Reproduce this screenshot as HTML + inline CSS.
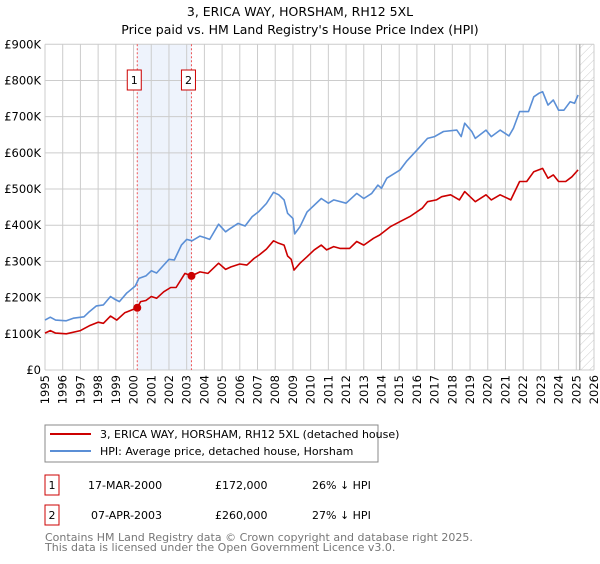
<!DOCTYPE html>
<html><head><meta charset="utf-8"><style>
body{margin:0;background:#fff;width:600px;height:560px;overflow:hidden;font-family:"DejaVu Sans","Liberation Sans",sans-serif;}
svg text{font-family:"DejaVu Sans","Liberation Sans",sans-serif;}
</style></head><body>
<svg id="chart" width="600" height="560" xmlns="http://www.w3.org/2000/svg">
<defs><pattern id="hatch" width="6" height="6" patternUnits="userSpaceOnUse" patternTransform="rotate(45)"><line x1="0" y1="0" x2="0" y2="6" stroke="#ccc" stroke-width="1"/></pattern></defs>
<text x="300" y="16" text-anchor="middle" font-size="12.5">3, ERICA WAY, HORSHAM, RH12 5XL</text>
<text x="300" y="34" text-anchor="middle" font-size="12.5">Price paid vs. HM Land Registry's House Price Index (HPI)</text>
<g id="grid"></g><g id="marks"></g><g id="axes"></g>
<g>
<rect x="45" y="425" width="333" height="37" fill="#fff" stroke="#888"/>
<line x1="50" y1="434" x2="91" y2="434" stroke="#cc0000" stroke-width="2"/>
<text x="100" y="438" font-size="11">3, ERICA WAY, HORSHAM, RH12 5XL (detached house)</text>
<line x1="50" y1="451" x2="91" y2="451" stroke="#5b8fd6" stroke-width="2"/>
<text x="100" y="455" font-size="11">HPI: Average price, detached house, Horsham</text>
</g>
<g font-size="11">
<rect x="45" y="475" width="14" height="20" fill="#fff" stroke="#cc0000"/><text x="52" y="489" text-anchor="middle">1</text>
<text x="88" y="489">17-MAR-2000</text><text x="215" y="489">£172,000</text><text x="312" y="489">26% ↓ HPI</text>
<rect x="45" y="505" width="14" height="20" fill="#fff" stroke="#cc0000"/><text x="52" y="519" text-anchor="middle">2</text>
<text x="91" y="519">07-APR-2003</text><text x="215" y="519">£260,000</text><text x="312" y="519">27% ↓ HPI</text>
</g>
<text x="45" y="541" font-size="11" fill="#777">Contains HM Land Registry data © Crown copyright and database right 2025.</text>
<text x="45" y="551" font-size="11" fill="#777">This data is licensed under the Open Government Licence v3.0.</text>
</svg>
<script>
const hpiYears=[1995.0,1995.3,1995.6,1996.2,1996.6,1997.2,1997.5,1997.9,1998.3,1998.7,1998.95,1999.2,1999.6,2000.1,2000.3,2000.7,2001.0,2001.3,2001.7,2002.0,2002.3,2002.7,2003.0,2003.3,2003.75,2004.0,2004.3,2004.8,2005.2,2005.4,2005.9,2006.3,2006.7,2007.05,2007.5,2007.9,2008.2,2008.5,2008.7,2009.0,2009.1,2009.4,2009.8,2010.6,2011.0,2011.3,2012.0,2012.6,2013.0,2013.45,2013.8,2014.0,2014.3,2015.05,2015.4,2016.1,2016.6,2017.0,2017.5,2018.25,2018.5,2018.7,2019.1,2019.3,2019.9,2020.2,2020.7,2021.2,2021.45,2021.8,2022.3,2022.6,2022.9,2023.1,2023.4,2023.7,2024.0,2024.3,2024.65,2024.9,2025.1];
const hpiValues=[138,146,138,136,143,147,161,177,180,203,195,189,212,232,253,260,274,268,290,306,304,345,361,357,370,366,361,403,382,389,405,398,424,437,460,491,484,470,433,419,376,396,437,474,461,470,461,488,474,488,511,502,530,553,576,613,640,645,659,663,645,682,659,640,663,645,663,647,668,714,714,755,765,769,732,746,718,718,741,737,760];
const ppYears=[1995.0,1995.3,1995.6,1996.2,1997.0,1997.5,1998.0,1998.3,1998.7,1999.05,1999.5,2000.21,2000.4,2000.7,2001.0,2001.3,2001.7,2002.1,2002.4,2002.9,2003.27,2003.75,2004.2,2004.8,2005.2,2005.5,2006.0,2006.4,2006.8,2007.1,2007.5,2007.9,2008.2,2008.5,2008.7,2008.9,2009.06,2009.4,2009.8,2010.2,2010.6,2010.9,2011.3,2011.65,2012.2,2012.6,2013.0,2013.55,2013.9,2014.5,2015.05,2015.6,2016.3,2016.6,2017.1,2017.4,2017.9,2018.4,2018.7,2019.3,2019.9,2020.2,2020.7,2021.3,2021.8,2022.2,2022.6,2023.1,2023.4,2023.7,2024.0,2024.4,2024.75,2025.1];
const ppValues=[102,109,102,100,109,122,132,129,149,138,158,172,189,192,203,198,216,228,228,267,260,271,267,295,278,285,293,290,308,318,334,357,350,345,315,306,276,295,313,332,345,332,341,336,336,355,345,364,373,396,410,424,447,465,470,479,484,470,493,465,484,470,484,470,521,521,548,557,530,539,521,521,534,553];
const saleYears=[2000.21,2003.27];
const saleValues=[172,260];
const yTicks=[0,100,200,300,400,500,600,700,800,900];
const yTickLabels=["£0","£100K","£200K","£300K","£400K","£500K","£600K","£700K","£800K","£900K"];
const xTicks=[1995,1996,1997,1998,1999,2000,2001,2002,2003,2004,2005,2006,2007,2008,2009,2010,2011,2012,2013,2014,2015,2016,2017,2018,2019,2020,2021,2022,2023,2024,2025,2026];

const X0=45,X1=594,Y0=370,Y1=44.3;
const sx=y=>X0+(y-1995)/(2026-1995)*(X1-X0);
const sy=v=>Y0-v/900*(Y0-Y1);
const NS="http://www.w3.org/2000/svg";
function mk(tag,attrs,parent){const e=document.createElementNS(NS,tag);for(const k in attrs)e.setAttribute(k,attrs[k]);parent.appendChild(e);return e;}
const grid=document.getElementById('grid'),marks=document.getElementById('marks'),axes=document.getElementById('axes');
// sale band
let band=mk('rect',{x:sx(saleYears[0]),y:Y1,width:sx(saleYears[1])-sx(saleYears[0]),height:Y0-Y1,fill:'#eef3fc'},grid);


let hat=mk('rect',{x:sx(2025.2),y:Y1,width:X1-sx(2025.2),height:Y0-Y1,fill:'url(#hatch)'},grid);


yTicks.forEach((t,i)=>{
 const l=mk('line',{x1:X0,x2:X1,y1:sy(t),y2:sy(t),stroke:'#ccc'},grid);
 
 
 const tx=mk('text',{x:X0-4,y:sy(t)+4,'text-anchor':'end','font-size':'11.5'},axes);
 tx.textContent=yTickLabels[i];
 
 
});
xTicks.forEach(t=>{
 const l=mk('line',{x1:sx(t),x2:sx(t),y1:Y1,y2:Y0,stroke:'#ccc'},grid);
 
 
 const tx=mk('text',{x:0,y:0,'text-anchor':'end','font-size':'11.5',transform:`translate(${sx(t)+4},${Y0+5}) rotate(-90)`},axes);
 tx.textContent=t;
 
 
});
let vl=mk('line',{x1:sx(2025.2),x2:sx(2025.2),y1:Y1,y2:Y0,stroke:'#999'},grid);


saleYears.forEach((y,i)=>{
 const l=mk('line',{x1:sx(y),x2:sx(y),y1:Y1,y2:Y0,stroke:'#e55','stroke-dasharray':'2,2'},grid);
 
 
 const g=mk('g',{},axes);
 
 
 mk('rect',{x:sx(y)-10,y:70,width:14,height:20,fill:'#fff',stroke:'#cc0000'},g);
 const t=mk('text',{x:sx(y)-3,y:84,'text-anchor':'middle','font-size':'11'},g);t.textContent=(i+1);
});
function path(xs,vs,color,name){
 const d=xs.map((y,i)=>(i?'L':'M')+sx(y).toFixed(1)+','+sy(vs[i]).toFixed(1)).join('');
 const p=mk('path',{d:d,fill:'none',stroke:color,'stroke-width':1.6,'stroke-linejoin':'round'},marks);
 
 
}
path(hpiYears,hpiValues,'#5b8fd6','hpi-line');
path(ppYears,ppValues,'#cc0000','property-price-line');
saleYears.forEach((y,i)=>{
 const c=mk('circle',{cx:sx(y),cy:sy(saleValues[i]),r:4,fill:'#cc0000'},marks);
 
 
});
</script>
</body></html>
